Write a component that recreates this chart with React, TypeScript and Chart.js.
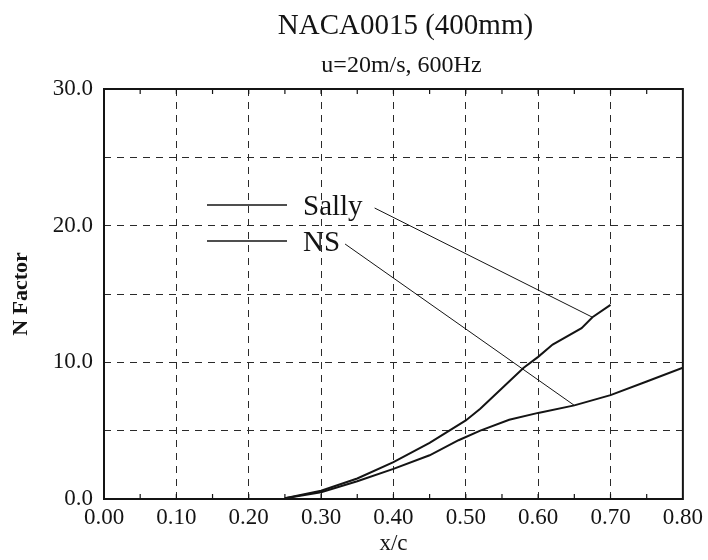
import React, { useEffect, useRef } from 'react';
import { Chart, registerables } from 'chart.js';

Chart.register(...registerables);

// ---- data ----
const TITLE = 'NACA0015 (400mm)';
const SUBTITLE = 'u=20m/s, 600Hz';
const X_TITLE = 'x/c';
const Y_TITLE = 'N Factor';

const SALLY_LABEL = 'Sally';
const SALLY_X = [0.25, 0.30, 0.35, 0.40, 0.45, 0.50, 0.52, 0.55, 0.58, 0.60, 0.62, 0.66, 0.675, 0.70];
const SALLY_N = [0.05, 0.6, 1.5, 2.7, 4.1, 5.75, 6.6, 8.1, 9.6, 10.4, 11.3, 12.5, 13.3, 14.2];
const SALLY_LEADER_INDEX = 12;

const NS_LABEL = 'NS';
const NS_X = [0.25, 0.30, 0.35, 0.40, 0.45, 0.49, 0.52, 0.56, 0.60, 0.65, 0.70, 0.75, 0.80];
const NS_N = [0.05, 0.5, 1.3, 2.2, 3.2, 4.3, 5.0, 5.8, 6.3, 6.85, 7.6, 8.6, 9.6];
const NS_LEADER_INDEX = 9;

const X_MIN = 0;
const X_MAX = 0.8;
const X_STEP = 0.1;
const X_MINOR_STEP = 0.05;
const Y_MIN = 0;
const Y_MAX = 30;
const Y_STEP = 5;
const Y_LABEL_STEP = 10;

const FONT = '"Liberation Serif", "Times New Roman", serif';
const INK = '#141414';

function pts(xs: number[], ys: number[]) {
  return xs.map((x, i) => ({ x, y: ys[i] }));
}

const decorPlugin = {
  id: 'decor',
  afterDatasetsDraw(chart: any) {
    const { ctx, chartArea: a, scales } = chart;
    const xs = scales.x;
    const ys = scales.y;
    ctx.save();

    // frame
    ctx.strokeStyle = INK;
    ctx.lineWidth = 2;
    ctx.setLineDash([]);
    ctx.strokeRect(a.left, a.top, a.right - a.left, a.bottom - a.top);

    // minor inward ticks on top and bottom
    ctx.lineWidth = 1.2;
    const n = Math.round((X_MAX - X_MIN) / X_MINOR_STEP);
    for (let i = 1; i < n; i++) {
      const px = xs.getPixelForValue(X_MIN + i * X_MINOR_STEP);
      ctx.beginPath();
      ctx.moveTo(px, a.bottom);
      ctx.lineTo(px, a.bottom - 5);
      ctx.moveTo(px, a.top);
      ctx.lineTo(px, a.top + 5);
      ctx.stroke();
    }

    // titles
    ctx.fillStyle = INK;
    ctx.textAlign = 'center';
    ctx.textBaseline = 'alphabetic';
    const cx = (a.left + a.right) / 2 + 8;
    ctx.font = `29px ${FONT}`;
    ctx.fillText(TITLE, cx + 4, a.top - 55);
    ctx.font = `24px ${FONT}`;
    ctx.fillText(SUBTITLE, cx, a.top - 17);

    // legend (inside plot) with leader lines
    const rows = [
      { label: SALLY_LABEL, y: a.top + 116, xs: SALLY_X, ns: SALLY_N, idx: SALLY_LEADER_INDEX, gap: 12 },
      { label: NS_LABEL, y: a.top + 152, xs: NS_X, ns: NS_N, idx: NS_LEADER_INDEX, gap: 5 },
    ];
    ctx.font = `29px ${FONT}`;
    ctx.textAlign = 'left';
    rows.forEach((r) => {
      const lx0 = a.left + 103;
      const lx1 = lx0 + 80;
      ctx.lineWidth = 1.6;
      ctx.beginPath();
      ctx.moveTo(lx0, r.y);
      ctx.lineTo(lx1, r.y);
      ctx.stroke();
      const tx = lx1 + 16;
      ctx.fillText(r.label, tx, r.y + 10);
      const w = ctx.measureText(r.label).width;
      ctx.lineWidth = 1;
      ctx.beginPath();
      ctx.moveTo(tx + w + r.gap, r.y + 3);
      ctx.lineTo(xs.getPixelForValue(r.xs[r.idx]), ys.getPixelForValue(r.ns[r.idx]));
      ctx.stroke();
    });

    ctx.restore();
  },
};

export default function App() {
  const ref = useRef<HTMLCanvasElement | null>(null);

  useEffect(() => {
    document.body.style.margin = '0';
    const canvas = ref.current;
    if (!canvas) return;
    const chart = new Chart(canvas, {
      type: 'scatter',
      data: {
        datasets: [
          {
            label: SALLY_LABEL,
            data: pts(SALLY_X, SALLY_N),
            showLine: true,
            borderColor: INK,
            borderWidth: 2,
            pointRadius: 0,
            tension: 0,
          },
          {
            label: NS_LABEL,
            data: pts(NS_X, NS_N),
            showLine: true,
            borderColor: INK,
            borderWidth: 2,
            pointRadius: 0,
            tension: 0,
          },
        ],
      },
      options: {
        responsive: false,
        animation: false,
        devicePixelRatio: 1,
        layout: { padding: { top: 89, right: 24, bottom: 0, left: 0 } },
        plugins: {
          legend: { display: false },
          title: { display: false },
          tooltip: { enabled: false },
        },
        scales: {
          x: {
            type: 'linear',
            position: 'bottom',
            min: X_MIN,
            max: X_MAX,
            afterFit: (s: any) => {
              s.height = 61;
            },
            ticks: {
              stepSize: X_STEP,
              autoSkip: false,
              maxRotation: 0,
              padding: 5,
              color: INK,
              font: { family: FONT, size: 23 },
              callback: (v: any) => Number(v).toFixed(2),
            },
            grid: { color: '#2a2a2a', lineWidth: 1, drawTicks: false },
            border: { display: false, dash: [7, 6] },
            title: {
              display: true,
              text: X_TITLE,
              color: INK,
              font: { family: FONT, size: 23 },
              padding: { top: 0, bottom: 2 },
            },
          },
          y: {
            type: 'linear',
            min: Y_MIN,
            max: Y_MAX,
            afterFit: (s: any) => {
              s.width = 104;
            },
            ticks: {
              stepSize: Y_STEP,
              padding: 11,
              color: INK,
              font: { family: FONT, size: 23 },
              callback: (v: any) => (Number(v) % Y_LABEL_STEP === 0 ? Number(v).toFixed(1) : ''),
            },
            grid: { color: '#2a2a2a', lineWidth: 1, drawTicks: false },
            border: { display: false, dash: [7, 6] },
            title: {
              display: true,
              text: Y_TITLE,
              color: INK,
              font: { family: FONT, size: 22, weight: 'bold' },
              padding: { top: 8, bottom: 0 },
            },
          },
        },
      },
      plugins: [decorPlugin],
    } as any);
    return () => chart.destroy();
  }, []);

  return (
    <div style={{ width: 708, height: 560, overflow: 'hidden' }}>
      <canvas ref={ref} width={708} height={560} style={{ display: 'block' }} />
    </div>
  );
}
